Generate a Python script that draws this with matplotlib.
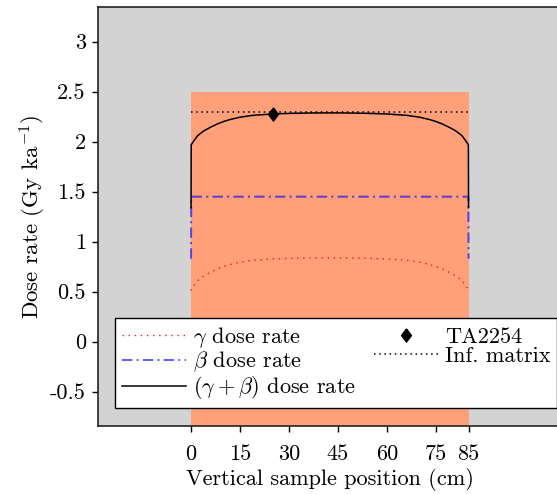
"""
Dose rate vs vertical sample position
"""
import numpy as np
import matplotlib
matplotlib.use('Agg')
import matplotlib.pyplot as plt
from matplotlib.ticker import FuncFormatter

# LaTeX-like fonts
plt.rcParams['font.family'] = 'serif'
plt.rcParams['font.serif'] = ['cmr10', 'DejaVu Serif']
plt.rcParams['mathtext.fontset'] = 'cm'
plt.rcParams['axes.unicode_minus'] = False

# data
position = [0, 0.05, 1, 2, 4, 6, 8, 10, 12, 15, 19, 25, 31, 37, 42.5,
            48, 54, 60, 66, 70, 73, 75, 77, 79, 81, 83, 84, 84.95, 85]
gamma_rate = [0.51, 0.52, 0.565, 0.61, 0.66, 0.695, 0.727, 0.752, 0.772, 0.795,
              0.814, 0.827, 0.834, 0.837, 0.838, 0.837, 0.834, 0.827, 0.814,
              0.795, 0.772, 0.752, 0.727, 0.695, 0.66, 0.61, 0.565, 0.52, 0.51]
beta_rate = [0.83] + [1.45] * 27 + [0.83]
total_rate = np.array(gamma_rate) + np.array(beta_rate)

inf_position = [0, 85]
inf_rate = [2.30, 2.30]

sample_position = [25]
sample_rate = [2.28]
sample_name = 'TA2254'

sediment_extent = [0, 85]
sediment_top = 2.5

x_ticks = [0, 15, 30, 45, 60, 75, 85]
y_ticks = [-0.5, 0, 0.5, 1, 1.5, 2, 2.5, 3]
x_lim = (-28.4, 113.2)
y_lim = (-0.843, 3.344)

# diamond a little wider than matplotlib's thin diamond
diamond = [(0, 1), (0.75, 0), (0, -1), (-0.75, 0), (0, 1)]

fig = plt.figure(figsize=(5.57, 4.94), dpi=100)
ax = fig.add_axes([0.1765, 0.1377, 0.83, 0.8475])
ax.set_facecolor('lightgray')

ax.fill_between(sediment_extent, y_lim[0], sediment_top, color='lightsalmon', lw=0, zorder=1)

ax.plot(position, gamma_rate, color='red', ls=(0, (1, 3.4)), lw=1.0, alpha=0.9,
        label=r'$\gamma$ dose rate', zorder=3)
ax.plot(position, beta_rate, color='blue', alpha=0.6, ls=(0, (5, 2, 1, 2)), lw=1.5,
        label=r'$\beta$ dose rate', zorder=3)
ax.plot(position, total_rate, color='black', lw=1.1,
        label=r'$(\gamma+\beta)$ dose rate', zorder=4)
ax.plot(sample_position, sample_rate, marker=diamond, color='black', ms=9.5, ls='none',
        label=sample_name, zorder=5)
ax.plot(inf_position, inf_rate, color='black', ls=(0, (1, 2.4)), lw=1.1,
        label='Inf. matrix', zorder=3)

ax.set_xlim(*x_lim)
ax.set_ylim(*y_lim)
ax.set_xticks(x_ticks)
ax.set_yticks(y_ticks)
ax.yaxis.set_major_formatter(FuncFormatter(lambda v, p: f'{v:g}'))
ax.xaxis.set_major_formatter(FuncFormatter(lambda v, p: f'{v:g}'))
ax.tick_params(direction='out', length=4, width=1, labelsize=16)
ax.tick_params(axis='x', length=4.5, pad=9)
ax.tick_params(axis='y', pad=5)
for side in ['left', 'top', 'bottom']:
    ax.spines[side].set_color('#222222')
    ax.spines[side].set_linewidth(1.2)
ax.spines['right'].set_visible(False)

ax.set_xlabel('Vertical sample position (cm)', fontsize=16, labelpad=3)
ax.set_ylabel(r'Dose rate (Gy ka$^{-1}$)', fontsize=16.5)
ax.yaxis.set_label_coords(-0.108, 0.5)

leg = ax.legend(ncol=2, loc='lower left', bbox_to_anchor=(0.0366, 0.043),
                fontsize=16, fancybox=False, framealpha=1,
                edgecolor='black', borderaxespad=0, handlelength=2.9,
                handletextpad=0.3, labelspacing=0.0, borderpad=0.3, columnspacing=0.8)
leg.get_frame().set_linewidth(1.0)

plt.savefig('out.png', dpi=100)
plt.close()
